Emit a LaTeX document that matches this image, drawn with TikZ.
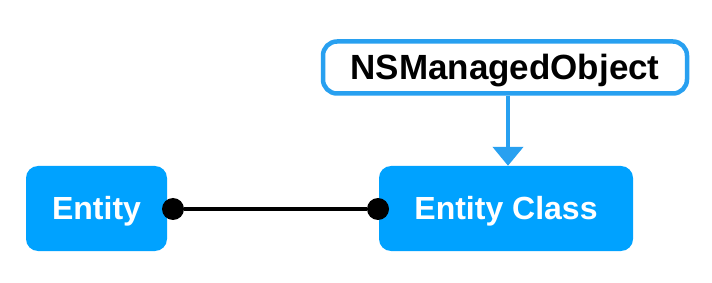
\documentclass[tikz,border=0pt]{standalone}
\usepackage{fontspec}
\setmainfont{Liberation Sans}
\usetikzlibrary{arrows.meta,decorations.pathmorphing}
\definecolor{boxblue}{RGB}{0,162,255}
\definecolor{sketchblue}{RGB}{40,160,240}
\tikzset{
  entitybox/.style={fill=boxblue, rounded corners=12pt, inner sep=0pt, text=white, text height=23pt, text depth=0pt, font=\bfseries\fontsize{32}{36}\selectfont},
  sketchbox/.style={draw=sketchblue, line width=4.5pt, rounded corners=14pt, inner sep=0pt, text height=24pt, text depth=0pt, font=\bfseries\fontsize{35}{38}\selectfont},
  dotlink/.style={line width=4pt, black},
  dotend/.style={circle, fill=black, inner sep=0pt, minimum size=22pt},
  inherit/.style={draw=sketchblue, line width=4.5pt, -{Triangle[width=30pt,length=19pt]}}
}
\begin{document}
\begin{tikzpicture}[x=1pt,y=-1pt]
\useasboundingbox (0,0) rectangle (712,283);
\node[entitybox, minimum width=141pt, minimum height=85pt] (entity) at (96.5,208.5) {Entity};
\node[entitybox, minimum width=254pt, minimum height=85pt] (eclass) at (506,208.5) {Entity Class};
\node[sketchbox, minimum width=364pt, minimum height=52pt] (nsmo) at (505,67.5) {NSManagedObject};
\node[dotend] (d1) at (173,209) {};
\node[dotend] (d2) at (378,209) {};
\draw[dotlink] (d1) -- (d2);
\draw[inherit] (nsmo.south -| 508,0) -- (eclass.north -| 508,0);
\end{tikzpicture}
\end{document}
